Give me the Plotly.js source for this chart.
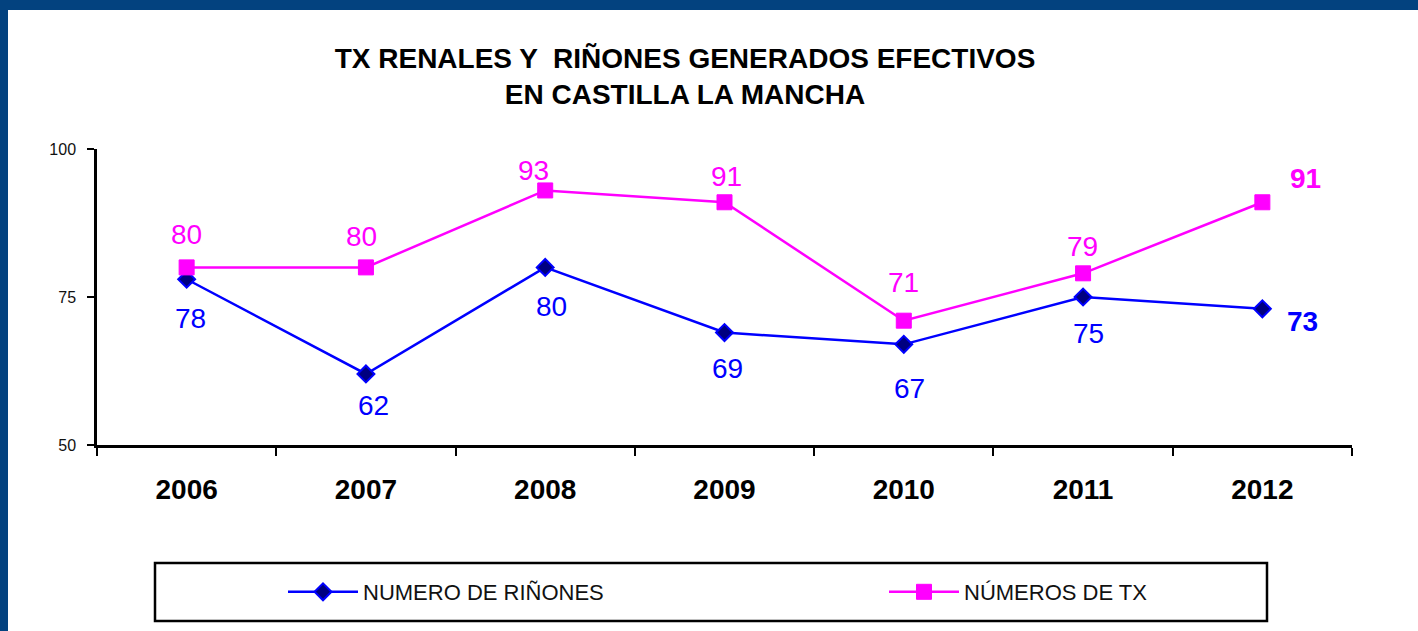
<!DOCTYPE html>
<html>
<head>
<meta charset="utf-8">
<script src="https://cdn.plot.ly/plotly-3.0.1.min.js"></script>
<style>
  html, body { margin: 0; padding: 0; width: 1418px; height: 631px; overflow: hidden; background: #03427f; }
  #chart { position: absolute; left: 8px; top: 10px; width: 1410px; height: 621px; background: #ffffff; }
</style>
</head>
<body>
<div id="chart"></div>
<script>
// ---- data ----
const years = ['2006', '2007', '2008', '2009', '2010', '2011', '2012'];
const rinones = [78, 62, 80, 69, 67, 75, 73];
const trasplantes = [80, 80, 93, 91, 71, 79, 91];
const seriesNames = ['NUMERO DE RIÑONES', 'NÚMEROS DE TX'];
const titleLines = ['TX RENALES Y  RIÑONES GENERADOS EFECTIVOS', 'EN CASTILLA LA MANCHA'];
const yTicks = [50, 75, 100];

// ---- label placement (pixel offsets from each point) ----
const rinDx = [4, 8, 6, 3, 6, 5, 40];
const rinDy = [-39, -32, -39, -36, -44, -36, -13];
const txDx = [0, -4, -12, 2, 0, -1, 43];
const txDy = [33, 31, 20, 26, 38, 27, 24];

const BLUE = '#0000ff';
const PINK = '#ff00ff';
const SANS = '"Liberation Sans", Arial, sans-serif';

const traces = [
  {
    x: years, y: rinones, name: seriesNames[0], type: 'scatter', mode: 'lines+markers',
    line: { color: BLUE, width: 2.5 },
    marker: { symbol: 'diamond', size: 13, color: '#000080', line: { color: BLUE, width: 2 } },
    hoverinfo: 'x+y'
  },
  {
    x: years, y: trasplantes, name: seriesNames[1], type: 'scatter', mode: 'lines+markers',
    line: { color: PINK, width: 2.5 },
    marker: { symbol: 'square', size: 15, color: PINK, line: { color: PINK, width: 1 } },
    hoverinfo: 'x+y'
  }
];

const annotations = [];
years.forEach((yr, i) => {
  const last = i === years.length - 1;
  annotations.push({
    x: i, y: rinones[i], xref: 'x', yref: 'y',
    text: last ? '<b>' + rinones[i] + '</b>' : String(rinones[i]), showarrow: false,
    xshift: rinDx[i], yshift: rinDy[i], xanchor: 'center', yanchor: 'middle',
    font: { family: SANS, size: 28, color: BLUE }
  });
  annotations.push({
    x: i, y: trasplantes[i], xref: 'x', yref: 'y',
    text: last ? '<b>' + trasplantes[i] + '</b>' : String(trasplantes[i]), showarrow: false,
    xshift: txDx[i], yshift: txDy[i], xanchor: 'center', yanchor: 'middle',
    font: { family: SANS, size: 28, color: PINK }
  });
});

const layout = {
  width: 1410, height: 621,
  paper_bgcolor: '#ffffff', plot_bgcolor: '#ffffff',
  margin: { l: 89, r: 66, t: 139, b: 186, pad: 0 },
  title: {
    text: titleLines.join('<br>'),
    font: { family: SANS, size: 28, color: '#000000', weight: 'bold' },
    x: 677 / 1410, xref: 'container', xanchor: 'center',
    y: 1 - 58 / 621, yref: 'container', yanchor: 'top'
  },
  xaxis: {
    type: 'category', categoryorder: 'array', categoryarray: years,
    range: [-0.5, 6.5], tickson: 'boundaries',
    showline: true, linecolor: '#000000', linewidth: 2.5,
    ticks: 'outside', ticklen: 8, tickwidth: 2, tickcolor: '#000000',
    showgrid: false, zeroline: false, ticklabelstandoff: 18,
    tickfont: { family: SANS, size: 28, color: '#000000', weight: 'bold' },
    fixedrange: true
  },
  yaxis: {
    range: [50, 100], tickvals: yTicks, ticktext: yTicks.map(String),
    showline: true, linecolor: '#000000', linewidth: 2.5,
    ticks: 'outside', ticklen: 7, tickwidth: 2, tickcolor: '#000000',
    showgrid: false, zeroline: false, ticklabelstandoff: 8,
    tickfont: { family: SANS, size: 16, color: '#111111' },
    fixedrange: true
  },
  showlegend: true,
  legend: {
    orientation: 'h', x: 275 / 1410, xanchor: 'left', xref: 'container',
    y: 1 - 582 / 621, yanchor: 'middle', yref: 'container',
    bgcolor: 'rgba(0,0,0,0)', borderwidth: 0,
    itemwidth: 70, entrywidth: 516, entrywidthmode: 'pixels',
    font: { family: SANS, size: 22, color: '#111111' },
    itemclick: false, itemdoubleclick: false
  },
  shapes: [
    {
      type: 'rect', xref: 'paper', yref: 'paper',
      x0: (155 - 97) / 1255, x1: (1267 - 97) / 1255,
      y0: -(563 - 445) / 296, y1: -(621 - 445) / 296,
      line: { color: '#000000', width: 2.5 }, fillcolor: 'rgba(0,0,0,0)'
    }
  ],
  annotations: annotations,
  hovermode: 'closest'
};

Plotly.newPlot('chart', traces, layout, { displayModeBar: false, responsive: false });
</script>
</body>
</html>
